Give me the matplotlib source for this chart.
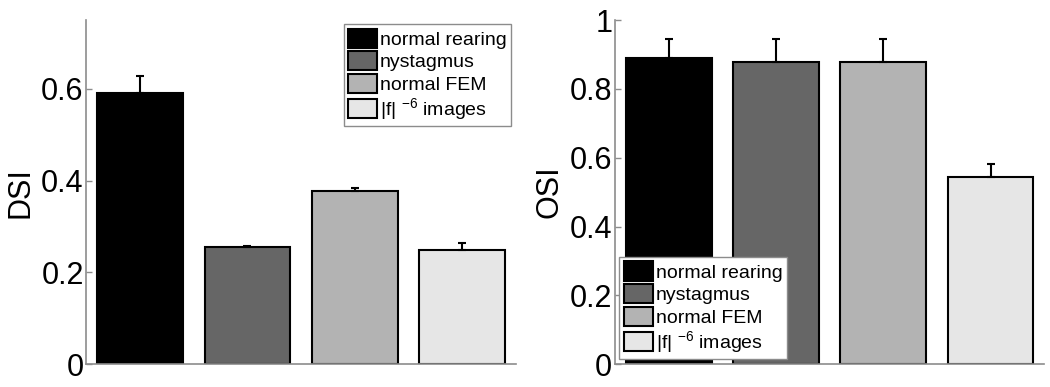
import matplotlib
matplotlib.use("Agg")
import matplotlib.pyplot as plt
from matplotlib.ticker import FuncFormatter

plt.rcParams['font.family'] = ['Liberation Sans', 'DejaVu Sans']
plt.rcParams['mathtext.default'] = 'regular'

conditions = ["normal rearing", "nystagmus", "normal FEM", "|f| $^{\u22126}$ images"]
colors = ["#000000", "#666666", "#b3b3b3", "#e6e6e6"]

dsi_values = [0.591, 0.255, 0.378, 0.249]
dsi_errors = [0.038, 0.003, 0.006, 0.016]
osi_values = [0.891, 0.878, 0.878, 0.544]
osi_errors = [0.055, 0.068, 0.068, 0.037]

dsi_ticks = [0, 0.2, 0.4, 0.6]
osi_ticks = [0, 0.2, 0.4, 0.6, 0.8, 1.0]

fig = plt.figure(figsize=(10.5, 3.87), dpi=100)
W, H = 1050, 387
ax_w = 429.2 / W
ax_h = 344.3 / H
ax_b = (H - 364.3) / H
ax1 = fig.add_axes([86.5 / W, ax_b, ax_w, ax_h])
ax2 = fig.add_axes([615.0 / W, ax_b, ax_w, ax_h])

fmt = FuncFormatter(lambda v, p: "%g" % v)


def draw(ax, vals, errs, ticks, ylim, label, legend_loc, anchor):
    x = list(range(1, len(vals) + 1))
    bars = ax.bar(x, vals, width=0.8, color=colors, edgecolor="black",
                  linewidth=1.5, zorder=2)
    ax.errorbar(x, vals, yerr=[[0] * len(errs), errs], fmt="none",
                ecolor="black", elinewidth=1.5, capsize=3, capthick=1.5,
                zorder=3)
    ax.set_xlim(0.5, len(vals) + 0.5)
    ax.set_ylim(*ylim)
    ax.set_yticks(ticks)
    ax.yaxis.set_major_formatter(fmt)
    ax.set_xticks([])
    for s in ["top", "right"]:
        ax.spines[s].set_visible(False)
    for s in ["left", "bottom"]:
        ax.spines[s].set_color("#8c8c8c")
        ax.spines[s].set_linewidth(1.2)
    ax.tick_params(axis="y", direction="in", length=4, width=1,
                   color="#8c8c8c", labelsize=22, pad=2)
    ax.set_ylabel(label, fontsize=22, labelpad=4)
    leg = ax.legend(bars, conditions, loc=legend_loc, bbox_to_anchor=anchor,
                    borderaxespad=0, fontsize=14, fancybox=False,
                    framealpha=1, edgecolor="#8c8c8c", handlelength=1.5,
                    handleheight=1.15, handletextpad=0.15, labelspacing=0.12,
                    borderpad=0.22)
    leg.get_frame().set_linewidth(1.0)
    leg.set_zorder(5)


draw(ax1, dsi_values, dsi_errors, dsi_ticks, (0, 0.75), "DSI",
     "upper right", (0.989, 0.9875))
draw(ax2, osi_values, osi_errors, osi_ticks, (0, 1.0), "OSI",
     "lower left", (0.010, 0.0145))

fig.savefig("out.png", dpi=100)
